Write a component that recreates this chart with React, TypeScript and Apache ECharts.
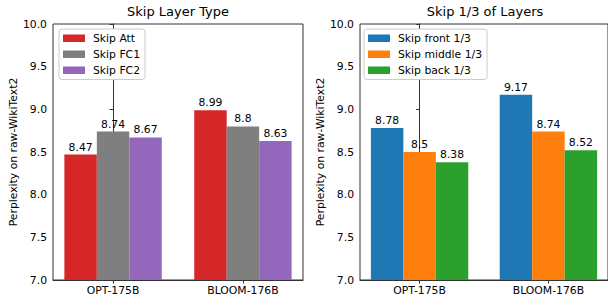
import React, { useEffect, useRef } from "react";
import * as echarts from "echarts";

const categories = ["OPT-175B", "BLOOM-176B"];
const leftTitle = "Skip Layer Type";
const rightTitle = "Skip 1/3 of Layers";
const yName = "Perplexity on raw-WikiText2";

const leftNames = ["Skip Att", "Skip FC1", "Skip FC2"];
const skipAtt = [8.47, 8.99];
const skipFC1 = [8.74, 8.8];
const skipFC2 = [8.67, 8.63];
const leftColors = ["#d62728", "#7f7f7f", "#9467bd"];

const rightNames = ["Skip front 1/3", "Skip middle 1/3", "Skip back 1/3"];
const skipFront = [8.78, 9.17];
const skipMiddle = [8.5, 8.74];
const skipBack = [8.38, 8.52];
const rightColors = ["#1f77b4", "#ff7f0e", "#2ca02c"];

const FONT = "DejaVu Sans";
const FS = 10.8;
const AXIS_COLOR = "#333";
const X_MIN = -0.4625;
const X_MAX = 1.4625;
const GRID_W = 250;
const BAR_W = (0.25 * GRID_W) / (X_MAX - X_MIN);

export default function App() {
  const ref = useRef<HTMLDivElement>(null);
  useEffect(() => {
    if (!ref.current) return;
    const chart = echarts.init(ref.current, undefined, { renderer: "svg" });
    const grids = [
      { left: 53, top: 24, width: GRID_W, height: 256 },
      { left: 360, top: 24, width: GRID_W, height: 256 },
    ].map((g) => ({ ...g, show: true, borderColor: AXIS_COLOR, borderWidth: 1, backgroundColor: "transparent" }));

    const xAxis = [0, 1].map((i) => ({
      type: "value",
      gridIndex: i,
      min: X_MIN,
      max: X_MAX,
      splitLine: { show: false },
      axisLine: { show: true, lineStyle: { color: AXIS_COLOR, width: 1 } },
      axisTick: { show: true, length: 3.5, customValues: [0, 1], lineStyle: { color: AXIS_COLOR } },
      axisLabel: {
        customValues: [0, 1],
        formatter: (v: number) => categories[Math.round(v)] ?? "",
        color: "#000",
        fontFamily: FONT,
        fontSize: FS,
        margin: 5,
      },
    }));

    const yAxis = [0, 1].map((i) => ({
      type: "value",
      gridIndex: i,
      min: 7,
      max: 10,
      interval: 0.5,
      name: yName,
      nameLocation: "middle",
      nameGap: 33,
      nameTextStyle: { color: "#000", fontFamily: FONT, fontSize: FS },
      splitLine: { show: false },
      axisLine: { show: true, lineStyle: { color: AXIS_COLOR, width: 1 } },
      axisTick: { show: true, length: 3.5, lineStyle: { color: AXIS_COLOR } },
      axisLabel: {
        formatter: (v: number) => v.toFixed(1),
        color: "#000",
        fontFamily: FONT,
        fontSize: FS,
        margin: 6,
      },
    }));

    const mk = (name: string, vals: number[], color: string, gi: number) => ({
      type: "bar",
      name,
      xAxisIndex: gi,
      yAxisIndex: gi,
      barWidth: BAR_W,
      barGap: "0%",
      itemStyle: { color },
      label: {
        show: true,
        position: "top",
        distance: 2,
        color: "#000",
        fontFamily: FONT,
        fontSize: FS,
        formatter: (p: any) => String(p.value[1]),
      },
      data: vals.map((v, k) => [k, v]),
    });

    const leftVals = [skipAtt, skipFC1, skipFC2];
    const rightVals = [skipFront, skipMiddle, skipBack];
    const series = [
      ...leftNames.map((n, k) => mk(n, leftVals[k], leftColors[k], 0)),
      ...rightNames.map((n, k) => mk(n, rightVals[k], rightColors[k], 1)),
    ];

    const legendBase = {
      orient: "vertical",
      top: 29,
      itemWidth: 22,
      itemHeight: 7.5,
      itemGap: 3.5,
      padding: [3, 5, 3, 4],
      borderColor: "#ccc",
      borderWidth: 1,
      borderRadius: 3,
      backgroundColor: "#fff",
      icon: "rect",
      textStyle: { color: "#000", fontFamily: FONT, fontSize: FS, lineHeight: 12.5, padding: [0, 0, 0, 3] },
    };

    const titleStyle = { fontFamily: FONT, fontSize: 13, fontWeight: "normal", color: "#000" };
    chart.setOption({
      animation: false,
      title: [
        { text: leftTitle, left: 178, top: 5, textAlign: "center", padding: 0, textStyle: titleStyle },
        { text: rightTitle, left: 485, top: 5, textAlign: "center", padding: 0, textStyle: titleStyle },
      ],
      legend: [
        { ...legendBase, left: 59, data: leftNames },
        { ...legendBase, left: 364, data: rightNames },
      ],
      grid: grids,
      xAxis,
      yAxis,
      series,
    } as any);
    return () => chart.dispose();
  }, []);
  return <div ref={ref} style={{ position: "fixed", left: 0, top: 0, width: 608, height: 297, background: "#fff" }} />;
}
